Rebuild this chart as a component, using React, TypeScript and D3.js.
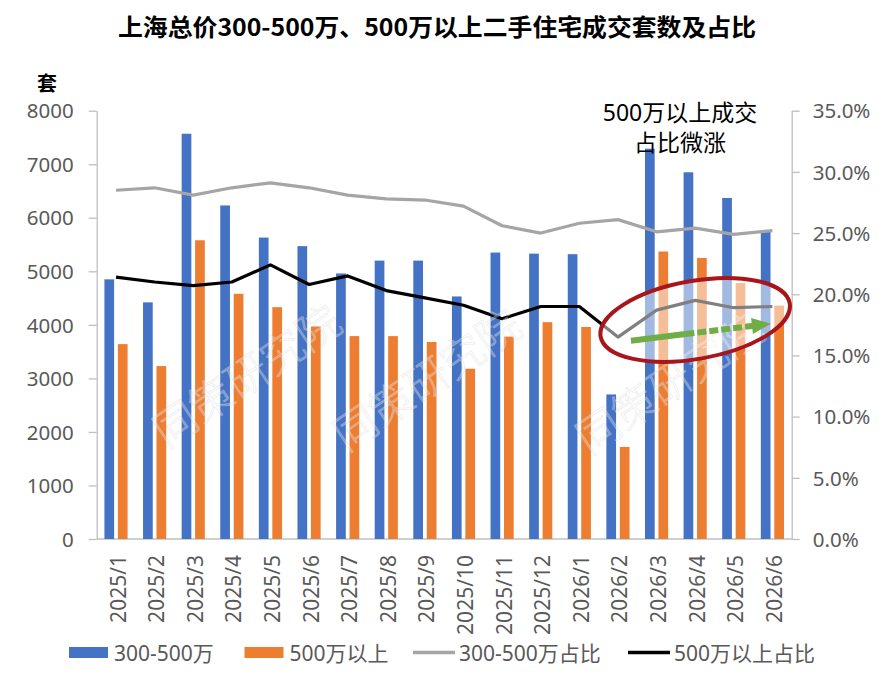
import { useEffect, useRef } from "react";
import * as d3 from "d3";

const WIDTH = 887;
const HEIGHT = 678;
const PLOT = { left: 96.7, right: 791.7, top: 110.7, bottom: 539 };

const months = [
  "2025/1", "2025/2", "2025/3", "2025/4", "2025/5", "2025/6",
  "2025/7", "2025/8", "2025/9", "2025/10", "2025/11", "2025/12",
  "2026/1", "2026/2", "2026/3", "2026/4", "2026/5", "2026/6",
];
// 300-500万 成交套数
const midCount = [4850, 4420, 7570, 6230, 5630, 5470, 4960, 5200, 5200, 4530, 5350, 5330, 5320, 2700, 7290, 6850, 6370, 5750];
// 500万以上 成交套数
const highCount = [3640, 3230, 5580, 4580, 4330, 3970, 3790, 3790, 3680, 3180, 3780, 4050, 3960, 1720, 5370, 5250, 4780, 4360];
// 占比 (%)
const midShare = [28.5, 28.7, 28.1, 28.7, 29.1, 28.7, 28.1, 27.8, 27.7, 27.2, 25.6, 25.0, 25.8, 26.1, 25.1, 25.4, 24.9, 25.2];
const highShare = [21.4, 21.0, 20.7, 21.0, 22.4, 20.8, 21.5, 20.3, 19.7, 19.1, 18.0, 19.0, 19.0, 16.5, 18.7, 19.5, 18.9, 19.0];

const leftTicks = [0, 1000, 2000, 3000, 4000, 5000, 6000, 7000, 8000];
const rightTicks = [0, 5, 10, 15, 20, 25, 30, 35];

const seriesNames = ["300-500万", "500万以上", "300-500万占比", "500万以上占比"];

const BLUE = "#4472C4";
const ORANGE = "#ED7D31";
const GRAY = "#A5A5A5";
const BLACK = "#000000";
const AXIS = "#BFBFBF";
const LABEL = "#595959";
const FONT = "'Noto Sans', 'Noto Sans CJK SC', sans-serif";
const CJK = "'Noto Sans CJK SC', sans-serif";

export default function App() {
  const svgRef = useRef<SVGSVGElement>(null);

  useEffect(() => {
    document.body.style.margin = "0";
    if (!svgRef.current) return;
    const svg = d3.select(svgRef.current);
    svg.selectAll("*").remove();

    const x0 = d3.scaleBand<string>().domain(months).range([PLOT.left, PLOT.right]).padding(0);
    const bw = x0.bandwidth();
    const x1 = d3
      .scaleBand<string>()
      .domain(["mid", "high"])
      .range([bw * 0.2, bw * 0.8])
      .paddingInner(0.28);
    const xc = (m: string) => (x0(m) || 0) + bw / 2;

    const yL = d3.scaleLinear().domain([0, 8000]).range([PLOT.bottom, PLOT.top]);
    const yR = d3.scaleLinear().domain([0, 35]).range([PLOT.bottom, PLOT.top]);

    // Title
    svg
      .append("text")
      .attr("x", 437)
      .attr("y", 25)
      .attr("text-anchor", "middle")
      .attr("dominant-baseline", "central")
      .attr("font-family", CJK)
      .attr("font-weight", "bold")
      .attr("font-size", 24)
      .attr("textLength", 638)
      .attr("lengthAdjust", "spacingAndGlyphs")
      .attr("fill", "#000")
      .text("上海总价300-500万、500万以上二手住宅成交套数及占比");

    svg
      .append("text")
      .attr("x", 47)
      .attr("y", 82)
      .attr("text-anchor", "middle")
      .attr("dominant-baseline", "central")
      .attr("font-family", CJK)
      .attr("font-weight", "bold")
      .attr("font-size", 20)
      .text("套");

    // Left axis
    const left = svg
      .append("g")
      .attr("transform", `translate(${PLOT.left},0)`)
      .call(d3.axisLeft(yL).tickValues(leftTicks).tickSize(8).tickSizeOuter(0).tickPadding(15).tickFormat(d3.format("d")));
    // Right axis
    const right = svg
      .append("g")
      .attr("transform", `translate(${PLOT.right},0)`)
      .call(
        d3
          .axisRight(yR)
          .tickValues(rightTicks)
          .tickSize(8)
          .tickSizeOuter(0)
          .tickPadding(13)
          .tickFormat((d) => `${(+d).toFixed(1)}%`),
      );
    [left, right].forEach((g) => {
      g.select(".domain").attr("stroke", AXIS).attr("stroke-width", 1.3);
      g.selectAll(".tick line").attr("stroke", AXIS).attr("stroke-width", 1.3);
      g.selectAll(".tick text")
        .attr("fill", LABEL)
        .attr("font-family", FONT)
        .attr("font-size", 20.5)
        .attr("dy", "0.35em");
    });

    // X axis baseline
    svg
      .append("line")
      .attr("x1", PLOT.left)
      .attr("x2", PLOT.right)
      .attr("y1", PLOT.bottom)
      .attr("y2", PLOT.bottom)
      .attr("stroke", AXIS)
      .attr("stroke-width", 1.3);

    // Bars
    const plot = svg.append("g");
    plot
      .selectAll(".bar-mid")
      .data(months)
      .join("rect")
      .attr("x", (m) => (x0(m) || 0) + (x1("mid") || 0))
      .attr("y", (_, i) => yL(midCount[i]))
      .attr("width", x1.bandwidth())
      .attr("height", (_, i) => PLOT.bottom - yL(midCount[i]))
      .attr("fill", BLUE);
    plot
      .selectAll(".bar-high")
      .data(months)
      .join("rect")
      .attr("x", (m) => (x0(m) || 0) + (x1("high") || 0))
      .attr("y", (_, i) => yL(highCount[i]))
      .attr("width", x1.bandwidth())
      .attr("height", (_, i) => PLOT.bottom - yL(highCount[i]))
      .attr("fill", ORANGE);

    // Lines
    const line = d3
      .line<number>()
      .x((_, i) => xc(months[i]))
      .y((d) => yR(d));
    plot
      .append("path")
      .attr("d", line(midShare))
      .attr("fill", "none")
      .attr("stroke", GRAY)
      .attr("stroke-width", 3.2)
      .attr("stroke-linejoin", "round");
    plot
      .append("path")
      .attr("d", line(highShare))
      .attr("fill", "none")
      .attr("stroke", BLACK)
      .attr("stroke-width", 3.2)
      .attr("stroke-linejoin", "round");

    // X labels
    svg
      .selectAll(".xlabel")
      .data(months)
      .join("text")
      .attr("transform", (m) => `translate(${xc(m) + 1.5},555) rotate(-90)`)
      .attr("text-anchor", "end")
      .attr("dominant-baseline", "central")
      .attr("font-family", FONT)
      .attr("font-size", 21)
      .attr("fill", LABEL)
      .text((m) => m);

    // Watermarks
    const marks = [
      [245, 373],
      [425, 377],
      [668, 380],
    ];
    svg
      .selectAll(".wm")
      .data(marks)
      .join("text")
      .attr("transform", (d) => `translate(${d[0]},${d[1]}) rotate(-34)`)
      .attr("text-anchor", "middle")
      .attr("dominant-baseline", "central")
      .attr("font-family", CJK)
      .attr("font-weight", 300)
      .attr("font-size", 43)
      .attr("fill", "#ffffff")
      .attr("fill-opacity", 0.3)
      .attr("stroke", "#cfcfcf")
      .attr("stroke-opacity", 0.4)
      .attr("stroke-width", 0.8)
      .text("同策研究院");

    // Highlight ellipse
    svg
      .append("ellipse")
      .attr("cx", xc("2026/4"))
      .attr("cy", yR(17.9))
      .attr("rx", 96)
      .attr("ry", 39)
      .attr("transform", `rotate(-10,${xc("2026/4")},${yR(17.9)})`)
      .attr("fill", "#ffffff")
      .attr("fill-opacity", 0.5)
      .attr("stroke", "#A8161C")
      .attr("stroke-width", 4);

    // Green arrow
    const ax0 = xc("2026/2") + 13;
    const ay0 = yR(16.2);
    const ax1 = xc("2026/6") - 1.5;
    const ay1 = yR(17.6);
    const len = Math.hypot(ax1 - ax0, ay1 - ay0);
    const ux = (ax1 - ax0) / len;
    const uy = (ay1 - ay0) / len;
    const head = 19;
    const bx = ax1 - ux * head;
    const by = ay1 - uy * head;
    const split = 0.45;
    const sx = ax0 + (bx - ax0) * split;
    const sy = ay0 + (by - ay0) * split;
    const GREEN = "#70AD47";
    svg
      .append("line")
      .attr("x1", ax0)
      .attr("y1", ay0)
      .attr("x2", sx)
      .attr("y2", sy)
      .attr("stroke", GREEN)
      .attr("stroke-width", 6);
    svg
      .append("line")
      .attr("x1", sx)
      .attr("y1", sy)
      .attr("x2", bx + ux * 2)
      .attr("y2", by + uy * 2)
      .attr("stroke", GREEN)
      .attr("stroke-width", 6)
      .attr("stroke-dasharray", "9 3");
    svg
      .append("path")
      .attr(
        "d",
        `M${ax1},${ay1} L${bx - uy * 8},${by + ux * 8} L${bx + uy * 8},${by - ux * 8} Z`,
      )
      .attr("fill", GREEN);

    // Annotation text
    svg
      .append("text")
      .attr("x", 680)
      .attr("y", 112)
      .attr("text-anchor", "middle")
      .attr("dominant-baseline", "central")
      .attr("font-family", FONT)
      .attr("font-size", 23)
      .attr("fill", "#000")
      .text("500万以上成交");
    svg
      .append("text")
      .attr("x", 680)
      .attr("y", 142)
      .attr("text-anchor", "middle")
      .attr("dominant-baseline", "central")
      .attr("font-family", FONT)
      .attr("font-size", 23)
      .attr("fill", "#000")
      .text("占比微涨");

    // Legend
    const legendY = 652.5;
    const legend = [
      { name: seriesNames[0], x: 69, kind: "rect", color: BLUE },
      { name: seriesNames[1], x: 244.5, kind: "rect", color: ORANGE },
      { name: seriesNames[2], x: 413, kind: "line", color: GRAY },
      { name: seriesNames[3], x: 628, kind: "line", color: BLACK },
    ];
    const lg = svg.selectAll(".legend").data(legend).join("g");
    lg.each(function (d) {
      const g = d3.select(this);
      if (d.kind === "rect") {
        g.append("rect")
          .attr("x", d.x)
          .attr("y", legendY - 5.5)
          .attr("width", 39)
          .attr("height", 11)
          .attr("fill", d.color);
      } else {
        g.append("line")
          .attr("x1", d.x)
          .attr("x2", d.x + 42)
          .attr("y1", legendY)
          .attr("y2", legendY)
          .attr("stroke", d.color)
          .attr("stroke-width", 3.5);
      }
      g.append("text")
        .attr("x", d.x + (d.kind === "rect" ? 45 : 46))
        .attr("y", legendY)
        .attr("dominant-baseline", "central")
        .attr("font-family", FONT)
        .attr("font-size", 21)
        .attr("fill", LABEL)
        .text(d.name);
    });
  }, []);

  return (
    <div style={{ width: WIDTH, height: HEIGHT, background: "#fff" }}>
      <svg ref={svgRef} width={WIDTH} height={HEIGHT} style={{ display: "block" }} />
    </div>
  );
}
